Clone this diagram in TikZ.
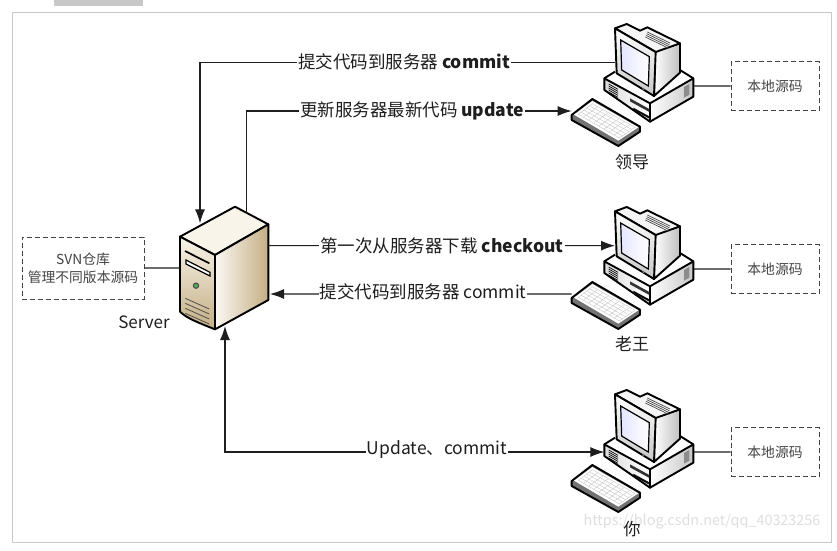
\documentclass[tikz,border=0pt]{standalone}
\usepackage{fontspec}
\setmainfont{Noto Sans CJK SC}
\usetikzlibrary{arrows.meta}
\definecolor{framegray}{HTML}{C8C8C8}
\definecolor{inkgray}{HTML}{1E1E1E}
\definecolor{boxgray}{HTML}{444444}
\definecolor{servertan}{HTML}{C4AE84}
\definecolor{servercream}{HTML}{F8F4EA}
\tikzset{
  outline/.style={draw=black,line width=1.9pt,line join=round},
  pics/pc/.style={code={
    % base unit
    \fill[white] (133,205) -- (165,185) -- (360,180) -- (400,205) -- (270,280) -- cycle;
    \path[outline,left color=black!14,right color=white] (133,205) -- (270,280) -- (270,335) -- (133,240) -- cycle;
    \path[outline,left color=white,right color=black!22] (270,280) -- (400,205) -- (400,260) -- (270,335) -- cycle;
    \draw[outline] (133,205) -- (165,185);
    \draw[outline] (360,180) -- (400,205);
    \foreach \i in {0,1,2,3,4}
      \draw[black,line width=.7pt] (146,{222+\i*6}) -- (174,{238+\i*6});
    \fill[black!45] (372,231) -- (388,222) -- (388,254) -- (372,263) -- cycle;
    \fill[black!80] (210,265) -- (268,297) -- (268,306) -- (210,274) -- cycle;
    \fill[black!95] (220,293) -- (268,319) -- (268,326) -- (220,300) -- cycle;
    % monitor
    \path[outline,left color=white,right color=black!25] (285,122) -- (360,100) -- (360,188) -- (282,258) -- cycle;
    \path[outline,fill=black!4] (165,55) -- (200,42) -- (240,62) -- (262,52) -- (360,100) -- (287,126) -- cycle;
    \path[outline,top color=white,bottom color=black!22] (165,55) -- (287,126) -- (282,258) -- (170,190) -- cycle;
    \path[draw=black,line width=1.2pt,left color=blue!10,right color=white] (182,90) -- (268,140) -- (265,228) -- (185,180) -- cycle;
    \fill[black!55] (250,237) circle (4);
    \foreach \i in {0,1,2,3}
      \draw[black!70,line width=.7pt] ({262+\i*-2},{66+\i*5}) -- ({330+\i*-2},{99+\i*5});
    % keyboard
    \path[outline,fill=black!55] (35,315) -- (97,267) -- (240,350) -- (240,365) -- (175,408) -- (35,330) -- cycle;
    \path[fill=white] (42,314) -- (97,273) -- (235,352) -- (175,392) -- cycle;
    \foreach \t in {0,.2,.4,.6,.8,1}
      \draw[black!22,line width=.4pt] ({55+42*\t},{313-32*\t}) -- ({178+47*\t},{384-32*\t});
    \foreach \s in {0,.125,...,1}
      \draw[black!22,line width=.4pt] ({55+123*\s},{313+71*\s}) -- ({97+128*\s},{281+71*\s});
    % ports
    \coordinate (-mon) at (165,158);
    \coordinate (-kbd) at (35,303);
    \coordinate (-base) at (133,228);
    \coordinate (-port) at (402,228);
  }},
  pics/rack/.style={code={
    \path[outline,fill=servercream] (540,140) -- (705,50) -- (805,103) -- (645,195) -- cycle;
    \path[outline,top color=servercream,bottom color=servertan] (540,140) -- (645,195) -- (645,418) .. controls (600,400) and (560,385) .. (540,365) -- cycle;
    \path[outline,left color=servercream!60!white,right color=servertan] (645,195) -- (805,103) -- (805,330) -- (645,418) -- cycle;
    \draw[black,line width=1.7pt] (555,183) -- (628,220);
    \path[draw=black,line width=1.2pt,fill=white] (558,210) -- (630,247) -- (630,258) -- (558,222) -- cycle;
    \path[draw=black!70,line width=1pt,fill=green!35!gray] (588,287) circle (8);
    \foreach \i in {0,1,2,3}
      \draw[black!70,line width=.8pt] (556,{325+\i*15}) -- (628,{360+\i*15-3});
    % ports
    \coordinate (-in) at (600,100);
    \coordinate (-out) at (740,72);
    \coordinate (-east) at (805,167);
    \coordinate (-back) at (810,312);
    \coordinate (-south) at (675,408);
    \coordinate (-west) at (540,234);
  }},
  wire/.style={draw=inkgray,line width=1.1pt},
  flow/.style={wire,-{Latex[length=14pt,width=10pt]}},
  flowboth/.style={wire,{Latex[length=14pt,width=10pt]}-{Latex[length=14pt,width=10pt]}},
  caption/.style={fill=white,inner sep=1pt,text=inkgray,font=\fontsize{17.5}{20}\selectfont},
  srcbox/.style={draw=boxgray,line width=1pt,dash pattern=on 5pt off 3pt,fill=white,minimum width=88pt,minimum height=49pt,inner sep=0pt,text=boxgray,align=center,font=\fontsize{13.8}{18}\selectfont},
  who/.style={text=inkgray,inner sep=0pt,font=\fontsize{17}{20}\selectfont},
}
\begin{document}
\begin{tikzpicture}[x=1pt,y=-1pt]
    \useasboundingbox (0,0) rectangle (837,550);
    \fill[framegray] (54,0) rectangle (143,6);
    \draw[framegray,line width=1pt] (12.5,12.5) rectangle (831,542);

    \node (mark) at (702,522) [text=black!13,inner sep=0pt,font=\fontsize{14.4}{18}\selectfont] {https://blog.csdn.net/qq\_40323256};

    \pic (server) at (0,190) [scale=1/3] {rack};
    \pic (pc1) at (560,10) [scale=1/3] {pc};
    \pic (pc2) at (560,193) [scale=1/3] {pc};
    \pic (pc3) at (560,376) [scale=1/3] {pc};

    \node (repo) at (83,268) [srcbox,minimum width=122pt,minimum height=62pt] {SVN仓库\\管理不同版本源码};
    \node (src1) at (775,86) [srcbox] {本地源码};
    \node (src2) at (775,269) [srcbox] {本地源码};
    \node (src3) at (775,452) [srcbox] {本地源码};

    \draw [wire] (repo) to (server-west);
    \draw [wire] (pc1-port) to (src1);
    \draw [wire] (pc2-port) to (src2);
    \draw [wire] (pc3-port) to (src3);

    \draw [flow] (pc1-mon) -| (server-in);
    \draw [flow] (server-out) |- (pc1-kbd);
    \draw [flow] (server-east) -- (pc2-mon);
    \draw [flow] (pc2-kbd) -- (server-back);
    \draw [flowboth] (server-south) |- (pc3-base);

    \node (commit1) at (404,62) [caption] {提交代码到服务器 \textbf{commit}};
    \node (update1) at (412,111) [caption] {更新服务器最新代码 \textbf{update}};
    \node (checkout) at (442,246) [caption] {第一次从服务器下载 \textbf{checkout}};
    \node (commit2) at (423,292) [caption] {提交代码到服务器 commit};
    \node (both) at (437,450) [caption] {Update、commit};

    \node (srvname) at (144,322) [who] {Server};
    \node (lead) at (632,162) [who] {领导};
    \node (wang) at (632,344) [who] {老王};
    \node (you) at (632,529) [who] {你};
\end{tikzpicture}
\end{document}
